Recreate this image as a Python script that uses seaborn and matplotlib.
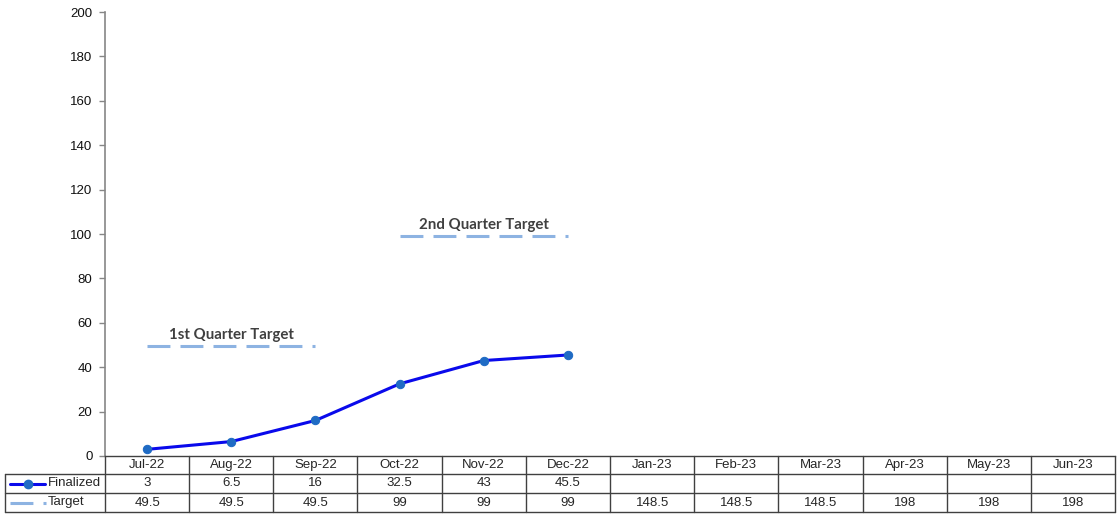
import matplotlib
matplotlib.use("Agg")
import matplotlib.pyplot as plt
import matplotlib.transforms as mtransforms
from matplotlib.lines import Line2D
import numpy as np
import pandas as pd
import seaborn as sns

# chart data
months = ["Jul-22", "Aug-22", "Sep-22", "Oct-22", "Nov-22", "Dec-22",
          "Jan-23", "Feb-23", "Mar-23", "Apr-23", "May-23", "Jun-23"]
finalized = [3, 6.5, 16, 32.5, 43, 45.5]
target = [49.5, 49.5, 49.5, 99, 99, 99, 148.5, 148.5, 148.5, 198, 198, 198]
quarter_labels = ["1st Quarter Target", "2nd Quarter Target"]

W, H = 1118, 515
line_blue = "#0A0AEB"
marker_blue = "#1F6BC4"
target_blue = "#8DB3E2"
grid_col = "#404040"
axis_gray = "#868686"
fs = 9.5

sns.set_style("white")
plt.rcParams["font.family"] = ["Liberation Sans", "DejaVu Sans"]

fig = plt.figure(figsize=(W / 100, H / 100), dpi=100)
ax = fig.add_axes([105 / W, 1 - 456 / H, (1115 - 105) / W, (456 - 12) / H])

x = np.arange(len(months))
df_fin = pd.DataFrame({"x": x[:len(finalized)], "v": finalized})
sns.lineplot(data=df_fin, x="x", y="v", ax=ax, color=line_blue, lw=2.2,
             marker="o", markersize=6, markerfacecolor=marker_blue,
             markeredgecolor=marker_blue)

# target segments for the first two quarters
for q, lab in enumerate(quarter_labels):
    sl = slice(q * 3, q * 3 + 3)
    df_t = pd.DataFrame({"x": x[sl], "v": target[sl]})
    sns.lineplot(data=df_t, x="x", y="v", ax=ax, color=target_blue, lw=2.2,
                 linestyle=(0, (7.5, 3.3)))
    ax.text(x[sl].mean(), target[sl][0] + 5, lab, ha="center", va="center",
            fontsize=10.8, fontweight="bold", color="#404040", family=["Lato", "DejaVu Sans"])

ax.set_xlim(-0.5, len(months) - 0.5)
ax.set_ylim(0, 200)
ax.set_yticks(range(0, 201, 20))
ax.set_xticks([])
ax.set_xlabel("")
ax.set_ylabel("")
ax.tick_params(axis="y", left=True, length=4, width=1, color=axis_gray,
               labelsize=fs, pad=5, labelcolor="#111111")
sns.despine(ax=ax, top=True, right=True)
ax.spines["left"].set_color(axis_gray)
ax.spines["bottom"].set_color(grid_col)
ax.spines["left"].set_linewidth(1.2)
ax.spines["bottom"].set_linewidth(1.0)

# data table below the axis
tr = mtransforms.blended_transform_factory(ax.transData, fig.transFigure)
rows_px = [456, 474, 493, 512]
fy = [1 - r / H for r in rows_px]
left_px = 5 / W
for yv in fy[1:]:
    fig.add_artist(Line2D([left_px, 1115 / W], [yv, yv], transform=fig.transFigure,
                          color=grid_col, lw=1.0))
for e in np.arange(len(months) + 1) - 0.5:
    fig.add_artist(Line2D([e, e], [fy[0], fy[3]], transform=tr, color=grid_col, lw=1.0))
fig.add_artist(Line2D([left_px, left_px], [fy[1], fy[3]], transform=fig.transFigure,
                      color=grid_col, lw=1.0))

mid = [(fy[i] + fy[i + 1]) / 2 for i in range(3)]
fin_txt = [f"{v:g}" for v in finalized] + [""] * (len(months) - len(finalized))
tgt_txt = [f"{v:g}" for v in target]
for i, m in enumerate(months):
    fig.text(i, mid[0], m, transform=tr, ha="center", va="center", fontsize=fs)
    fig.text(i, mid[1], fin_txt[i], transform=tr, ha="center", va="center", fontsize=fs)
    fig.text(i, mid[2], tgt_txt[i], transform=tr, ha="center", va="center", fontsize=fs)

# legend keys in the row label column
fig.add_artist(Line2D([10 / W, 45 / W], [mid[1], mid[1]], transform=fig.transFigure,
                      color=line_blue, lw=2.2))
fig.add_artist(Line2D([28 / W], [mid[1]], transform=fig.transFigure, marker="o",
                      markersize=6, color=marker_blue))
fig.add_artist(Line2D([10 / W, 46 / W], [mid[2], mid[2]], transform=fig.transFigure,
                      color=target_blue, lw=2.2, linestyle=(0, (7.5, 3.3))))
fig.text(48 / W, mid[1], "Finalized", ha="left", va="center", fontsize=fs)
fig.text(48 / W, mid[2], "Target", ha="left", va="center", fontsize=fs)

fig.savefig("out.png", dpi=100)
